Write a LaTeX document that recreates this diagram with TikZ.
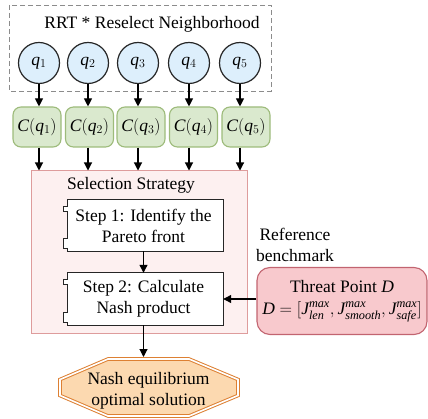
\documentclass[tikz,border=0pt]{standalone}
\usepackage{amsmath}
\usepackage{fontspec}
\setmainfont{Liberation Serif}
\usetikzlibrary{arrows.meta,calc}

\definecolor{qblue}{HTML}{DDEFFC}
\definecolor{cgreen}{HTML}{DAE9CE}
\definecolor{cgreenline}{HTML}{9DBB7B}
\definecolor{selfill}{HTML}{FDF0F0}
\definecolor{selline}{HTML}{DE9C9C}
\definecolor{tpfill}{HTML}{F8C9CD}
\definecolor{tpline}{HTML}{C26470}
\definecolor{octfill}{HTML}{FCD9B0}
\definecolor{octline}{HTML}{DD8033}

% italic variables in the serif text face
\newcommand{\mv}[1]{\mathit{#1}}

\begin{document}
\begin{tikzpicture}[x=1pt,y=-1pt,
  every node/.style={font=\fontsize{17.5}{21}\selectfont, inner sep=0pt},
  arr/.style={-{Triangle[length=8pt,width=8pt]}, line width=1.1pt},
  qnode/.style={circle, draw=black!85, line width=1.2pt, fill=qblue, minimum size=41pt},
  cnode/.style={rectangle, rounded corners=8pt, draw=cgreenline, line width=1.1pt,
    fill=cgreen, minimum width=48pt, minimum height=40pt},
  selbox/.style={rectangle, draw=selline, line width=1pt, fill=selfill,
    minimum width=216pt, minimum height=162pt},
  stepbox/.style={rectangle, align=center, minimum width=159pt},
  stepline/.style={draw=black!85, line width=1.2pt, fill=white},
  threat/.style={rectangle, rounded corners=13pt, draw=tpline, line width=1.1pt,
    fill=tpfill, align=center, minimum width=170pt, minimum height=67pt},
  octa/.style={draw=octline, line width=1pt, double=white, double distance=1.6pt,
    fill=octfill, line join=miter}
]
\useasboundingbox (0,0) rectangle (428,419);

% neighbourhood frame
\draw[dash pattern=on 5pt off 3pt, draw=black!45, line width=0.9pt] (9,5) rectangle (271,91);
\node (title) at (152,24) {RRT * Reselect Neighborhood};

% candidate parents
\node[qnode] (q1) at (39,63)  {$\mv{q}_1$};
\node[qnode] (q2) at (88,63)  {$\mv{q}_2$};
\node[qnode] (q3) at (138,63) {$\mv{q}_3$};
\node[qnode] (q4) at (189,63) {$\mv{q}_4$};
\node[qnode] (q5) at (240,63) {$\mv{q}_5$};

% costs
\node[cnode] (c1) at (37,127)    {$\mv{C}(\mv{q}_1)$};
\node[cnode] (c2) at (89.5,127)  {$\mv{C}(\mv{q}_2)$};
\node[cnode] (c3) at (141,127)   {$\mv{C}(\mv{q}_3)$};
\node[cnode] (c4) at (193.5,127) {$\mv{C}(\mv{q}_4)$};
\node[cnode] (c5) at (246,127)   {$\mv{C}(\mv{q}_5)$};

% selection strategy block
\node[selbox] (sel) at (139,252) {};
\node (seltitle) at (131,185) {Selection Strategy};

\node[stepbox, minimum height=51pt] (s1) at (143.5,225.5) {};
\node[stepbox, minimum height=52pt] (s2) at (143.5,299) {};

\foreach \s in {s1,s2}{
  \draw[stepline] ([xshift=4pt]\s.north west) -- ++(0,7) -- ++(-4,0) -- ++(0,5) -- ++(4,0)
    -- ([xshift=4pt,yshift=13pt]\s.south west) -- ++(-4,0) -- ++(0,10) -- ++(4,0)
    -- ([xshift=4pt]\s.south west) -- (\s.south east) -- (\s.north east) -- cycle;
}
\node[align=center] (s1txt) at (s1) {Step 1: Identify the\\Pareto front};
\node[align=center] (s2txt) at (s2) {Step 2: Calculate\\Nash product};

% threat point
\node[threat] (tp) at (342,301) {Threat Point $\mv{D}$\\[1pt]$\mv{D}=[\mv{J}^{\mv{max}}_{\mv{len}},\mv{J}^{\mv{max}}_{\mv{smooth}},\mv{J}^{\mv{max}}_{\mv{safe}}]$};
\node[align=center] (ref) at (295,244.5) {Reference\\benchmark};

% result: octagonal terminal with a double border
\draw[octa] (60,379.5) -- (108,359) -- (189,359) -- (238,379.5) -- (238,395.5)
  -- (189,416) -- (108,416) -- (60,395.5) -- cycle;
\coordinate (netop) at (143.5,357);
\node[align=center] (ne) at (148.5,390.5) {Nash equilibrium\\optimal solution};

% connectors
\foreach \i in {1,...,5}{
  \draw[arr] (q\i.south) -- (q\i |- c\i.north);
  \draw[arr] (q\i |- c\i.south) -- (q\i |- sel.north);
}
\draw[arr] (s1.south) -- (s2.north);
\draw[arr] (tp.west |- s2.east) -- (s2.east);
\draw[arr] (s2.south) -- (netop);
\end{tikzpicture}
\end{document}
